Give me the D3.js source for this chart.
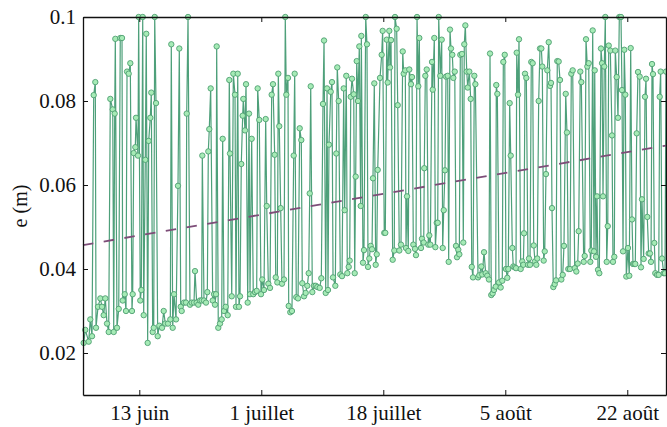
<!DOCTYPE html>
<html>
<head>
<meta charset="utf-8">
<script src="https://cdn.jsdelivr.net/npm/d3@7/dist/d3.min.js"></script>
<style>
  body { margin: 0; background: #fff; }
</style>
</head>
<body>
<svg id="chart" width="667" height="427"></svg>
<script>
// Temps en jours depuis le 1er juin (0 h UTC)
const origine = Date.UTC(2013, 5, 1);

const jours = [
  4.52,4.75,5.24,5.47,5.72,5.96,6.19,6.29,6.58,6.91,7.15,7.39,7.62,7.87,8.11,8.34,8.69,8.83,8.97,9.06,
  9.30,9.55,9.77,10.02,10.12,10.41,10.59,10.74,10.98,11.21,11.45,11.55,11.70,11.93,12.03,12.31,12.41,12.64,12.79,12.99,
  13.13,13.36,13.50,13.70,13.85,14.08,14.22,14.42,14.57,14.71,14.90,15.14,15.37,15.76,16.00,16.23,16.62,16.95,17.09,17.29,
  17.48,17.77,18.05,18.24,18.44,
  18.58,18.91,19.20,19.30,19.49,19.77,20.02,20.35,20.49,20.73,20.96,21.21,21.45,21.54,21.78,22.07,22.26,22.40,22.54,22.74,
  23.03,23.22,23.36,23.50,23.60,23.83,24.08,24.32,24.46,24.65,24.90,25.18,25.41,25.51,25.76,25.99,26.23,26.37,26.62,26.80,
  26.95,27.13,27.33,27.42,27.66,27.81,28.05,28.24,28.38,28.62,28.85,29.10,29.34,29.48,29.71,29.96,30.14,30.39,30.63,30.78,
  31.01,31.25,31.49,31.68,31.92,32.07,32.30,32.44,32.58,
  32.78,32.97,33.26,33.44,33.59,33.83,33.93,34.16,34.40,34.65,34.79,35.02,35.27,35.51,35.74,35.88,36.13,36.37,36.60,36.80,
  36.95,37.09,37.32,37.56,37.81,38.04,38.38,38.61,38.85,39.00,39.24,39.43,39.57,39.71,39.96,40.14,40.29,40.62,40.76,40.90,
  41.10,41.33,41.58,41.82,41.96,42.19,42.34,42.54,42.68,42.83,43.01,43.26,43.40,43.54,43.69,43.87,44.06,44.26,44.35,44.59,
  44.73,44.98,45.16,45.31,45.49,45.69,45.88,46.02,46.21,46.41,46.56,46.70,
  47.03,47.27,47.41,47.64,47.79,47.99,48.13,48.36,48.46,48.61,48.85,49.08,49.18,49.42,49.57,49.80,50.04,50.29,50.43,50.66,
  50.76,50.90,51.09,51.23,51.48,51.62,51.81,52.05,52.19,52.34,52.52,52.67,52.91,53.05,53.30,53.38,53.53,53.73,53.96,54.10,
  54.25,54.49,54.59,54.82,54.97,55.17,55.31,55.45,55.68,55.88,56.02,56.17,56.35,56.50,56.74,56.88,57.07,57.21,57.40,57.55,
  57.75,57.93,58.08,58.26,58.41,58.55,58.79,58.98,59.12,59.27,59.47,59.61,59.84,60.04,60.19,60.37,60.56,60.71,
  61.09,61.27,61.56,61.70,61.95,62.19,62.42,62.66,62.81,62.99,63.19,63.38,63.63,63.71,63.86,64.10,64.34,64.57,64.72,64.92,
  65.10,65.29,65.43,65.63,65.78,66.01,66.15,66.35,66.54,66.64,66.83,66.97,67.21,67.44,67.59,67.69,67.83,68.02,68.26,68.40,
  68.55,68.73,68.93,69.08,69.26,69.45,69.59,69.79,69.98,70.17,70.31,70.51,70.66,70.84,71.03,71.23,71.42,71.56,71.70,71.89,
  72.09,72.28,72.46,72.66,72.85,73.04,73.24,73.42,73.67,73.85,74.04,74.28,74.47,74.67,
  74.96,75.19,75.39,75.53,75.76,75.91,76.25,76.39,76.58,76.77,76.97,77.20,77.34,77.54,77.73,77.83,78.01,78.16,78.30,78.49,
  78.73,78.88,79.02,79.20,79.35,79.55,79.70,79.84,80.07,80.31,80.45,80.64,80.78,80.98,81.17,81.36,81.60,81.74,81.89,82.07,
  82.22,82.36,82.60,82.79,82.99,83.18,83.32,83.51,83.65,83.85,84.04,84.28,84.47,84.61,84.85,85.04,85.19,85.37,85.57,85.76,
  85.90,86.05,86.19,86.38,86.52,86.77,87.01,87.15,87.29,87.48,87.73,87.91,88.06
];

// Épaisseur mesurée e (m)
const e = [
  .0224,.0255,.0227,.028,.024,.0814,.0845,.026,.031,.033,.031,.029,.033,.027,.025,.0805,.078,.025,.077,.0948,
  .026,.0305,.095,.095,.0325,.034,.030,.087,.0865,.089,.030,.034,.0676,.069,.076,.067,.1,.0325,.035,.1,
  .029,.066,.096,.0224,.0705,.076,.082,.025,.026,.1,.0795,.024,.0265,.026,.030,.027,.027,.028,.0935,.026,
  .034,.028,.0598,.0925,.031,
  .030,.032,.032,.077,.1,.0315,.032,.032,.0395,.032,.0315,.0325,.0325,.067,.0325,.032,.0345,.068,.0733,.083,
  .0325,.034,.0315,.034,.093,.026,.027,.028,.071,.030,.031,.029,.085,.0675,.0335,.0865,.0815,.031,.0865,.031,
  .0335,.065,.0765,.0805,.073,.084,.032,.077,.034,.071,.034,.0345,.0348,.083,.0755,.034,.0375,.035,.0757,.055,
  .0365,.0355,.0815,.084,.0672,.038,.0368,.0865,.074,
  .0545,.0365,.0375,.1,.0815,.0855,.0312,.0297,.030,.067,.0865,.0333,.033,.0735,.0707,.0366,.0335,.0343,.036,.039,
  .058,.0835,.0345,.036,.036,.0357,.0355,.0378,.0793,.0944,.0343,.083,.035,.0696,.0822,.0845,.038,.036,.0675,.088,
  .08,.0387,.0383,.083,.054,.086,.039,.0405,.042,.081,.0853,.0816,.039,.062,.0895,.08,.093,.055,.0955,.0415,
  .0445,.1,.0935,.0405,.0425,.0455,.0447,.0616,.0842,.041,.0435,.0636,
  .0855,.091,.0967,.0486,.0486,.0946,.0844,.0967,.088,.0945,.0422,.0444,.1,.0972,.079,.0444,.0458,.0918,.0865,.0873,
  .045,.0573,.0443,.0875,.084,.0857,.0458,.0448,.0433,.1,.0835,.095,.045,.0472,.0463,.064,.086,.0875,.0458,.048,
  .0458,.0893,.0827,.095,.0452,.051,.051,.1,.086,.0946,.045,.054,.0635,.0858,.086,.0417,.097,.0925,.091,.0855,
  .087,.0455,.0428,.0446,.0435,.091,.0912,.0463,.0935,.098,.087,.0832,.087,.0805,.0405,.038,.086,.084,
  .038,.0385,.0406,.0387,.044,.039,.0384,.0375,.0913,.0338,.0342,.035,.0358,.0838,.0817,.0368,.0356,.0372,.0893,.091,
  .04,.0379,.04,.0795,.067,.045,.0406,.0404,.0402,.0915,.0815,.0947,.04,.0418,.041,.0485,.0865,.0855,.041,.0425,
  .041,.0893,.089,.0456,.0418,.041,.0425,.08,.0925,.0925,.0882,.042,.0442,.0626,.0873,.094,.0836,.0843,.0545,.0357,
  .0364,.0373,.0895,.0894,.085,.0375,.0386,.0455,.0817,.0725,.04,.04,.0865,.0873,
  .0402,.0394,.0413,.049,.087,.0845,.0417,.0431,.0947,.0882,.089,.0417,.0444,.0968,.0442,.0873,.0429,.0573,.0398,.039,
  .0925,.089,.0573,.0882,.1,.0417,.0502,.0932,.092,.0718,.0417,.0429,.092,.0857,.076,.1,.1,.0826,.0442,.0922,
  .0815,.0382,.045,.0384,.0926,.0518,.0412,.0412,.0412,.0723,.0869,.0858,.0404,.0566,.0424,.081,.0853,.0524,.0437,.0437,
  .0417,.0888,.0864,.0462,.039,.0386,.0386,.081,.087,.0425,.039,.039,.087
];

// Droite de tendance (jours de début/fin, valeurs)
const tendanceJours = [4.42, 88.06];
const tendanceE = [0.0457, 0.0694];

// Graduations
const graduationsJours = [12.5, 30, 47.5, 65, 82.5];
const graduationsTexte = ["13 juin", "1 juillet", "18 juillet", "5 août", "22 août"];
const graduationsE = [0.02, 0.04, 0.06, 0.08, 0.1];
const graduationsETexte = ["0.02", "0.04", "0.06", "0.08", "0.1"];
const domaineJours = [4.424, 88.055];
const domaineE = [0.01, 0.1];

const police = "Liberation Serif";
const enDate = j => new Date(origine + j * 86400000);

const marge = { gauche: 83, droite: 666, haut: 17, bas: 395 };
const svg = d3.select("#chart");

const x = d3.scaleUtc()
  .domain(domaineJours.map(enDate))
  .range([marge.gauche, marge.droite]);
const y = d3.scaleLinear()
  .domain(domaineE)
  .range([marge.bas, marge.haut]);

const points = jours.map((j, i) => ({ t: enDate(j), v: e[i] }));

// Série mesurée
svg.append("path")
  .datum(points)
  .attr("fill", "none")
  .attr("stroke", "#2f8f63")
  .attr("stroke-opacity", 0.85)
  .attr("stroke-width", 1.2)
  .attr("stroke-linejoin", "round")
  .attr("d", d3.line().x(d => x(d.t)).y(d => y(d.v)));

// Tendance linéaire
svg.append("path")
  .datum(tendanceJours.map((j, i) => ({ t: enDate(j), v: tendanceE[i] })))
  .attr("fill", "none")
  .attr("stroke", "#7d4d78")
  .attr("stroke-width", 1.8)
  .attr("stroke-dasharray", "10.5,10.5")
  .attr("d", d3.line().x(d => x(d.t)).y(d => y(d.v)));

// Marqueurs
svg.append("g")
  .selectAll("circle")
  .data(points)
  .join("circle")
  .attr("cx", d => x(d.t))
  .attr("cy", d => y(d.v))
  .attr("r", 2.7)
  .attr("fill", "#a6ebb6")
  .attr("stroke", "#4f9f72")
  .attr("stroke-width", 0.9);

// Axes
const tickDates = graduationsJours.map(enDate);
const axeBas = d3.axisBottom(x).tickValues(tickDates)
  .tickFormat((d, i) => graduationsTexte[i]).tickSizeInner(-5).tickSizeOuter(0).tickPadding(10);
const axeHaut = d3.axisTop(x).tickValues(tickDates)
  .tickFormat("").tickSizeInner(-5).tickSizeOuter(0);
const axeGauche = d3.axisLeft(y).tickValues(graduationsE)
  .tickFormat((d, i) => graduationsETexte[i]).tickSizeInner(-5).tickSizeOuter(0).tickPadding(7);
const axeDroite = d3.axisRight(y).tickValues(graduationsE)
  .tickFormat("").tickSizeInner(-5).tickSizeOuter(0);

function style(g) {
  g.attr("font-family", police);
  g.selectAll(".domain").attr("stroke", "#111").attr("stroke-width", 1.3);
  g.selectAll(".tick line").attr("stroke", "#111").attr("stroke-width", 1);
  g.selectAll(".tick text")
    .attr("font-size", 21)
    .attr("font-family", police)
    .attr("fill", "#111");
}

svg.append("g").attr("transform", `translate(0,${marge.bas})`).call(axeBas).call(style);
svg.append("g").attr("transform", `translate(0,${marge.haut})`).call(axeHaut).call(style);
svg.append("g").attr("transform", `translate(${marge.gauche},0)`).call(axeGauche).call(style);
svg.append("g").attr("transform", `translate(${marge.droite},0)`).call(axeDroite).call(style);

// Titre de l'axe vertical
svg.append("text")
  .attr("transform", `translate(27,${(marge.haut + marge.bas) / 2}) rotate(-90)`)
  .attr("text-anchor", "middle")
  .attr("font-size", 20)
  .attr("font-family", police)
  .attr("fill", "#111")
  .text("e (m)");
</script>
</body>
</html>
